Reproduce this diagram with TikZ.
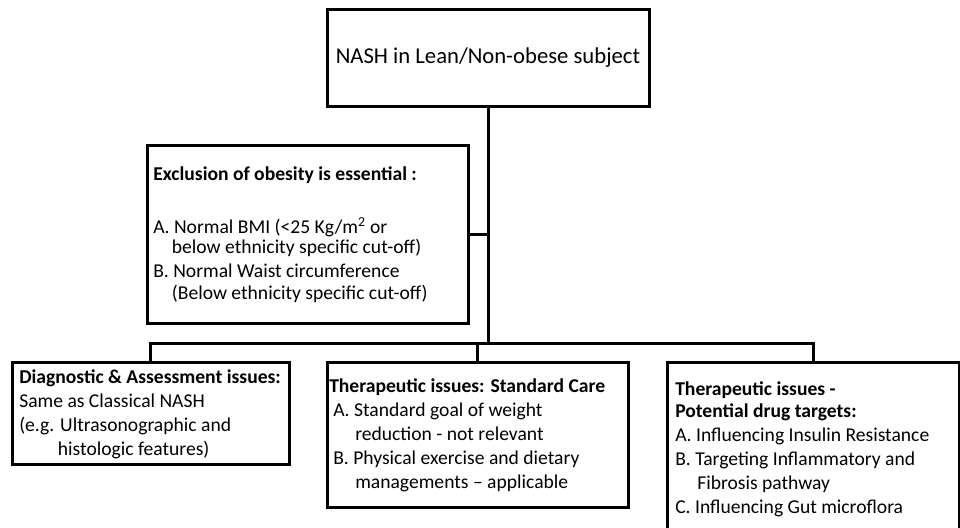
\documentclass[tikz,border=0pt]{standalone}
\usepackage{fontspec}
\setmainfont{Carlito}
\usetikzlibrary{fit}
\begin{document}
\begin{tikzpicture}[x=0.75pt,y=-0.75pt,
  box/.style={draw, line width=2.25pt, inner sep=0pt, rectangle},
  wire/.style={line width=2.25pt},
  txt/.style={anchor=base west, inner sep=0pt, align=left, font=\fontsize{14.7}{18}\selectfont},
  ttl/.style={inner sep=0pt, font=\fontsize{17}{20}\selectfont}]
\useasboundingbox (0,0) rectangle (960,528);
\begin{scope}
\clip (0,0) rectangle (960,528);
% boxes
\node[box, fit={(327,10) (649,106)}] (title) {};
\node[box, fit={(147,145) (468,323)}] (excl) {};
\node[box, fit={(12,362) (289,464)}] (left) {};
\node[box, fit={(327,362) (628,507)}] (mid) {};
\node[box, fit={(667,362) (959,545)}] (right) {};
% texts (base anchor = baseline of last line)
\node[ttl] (ttltext) at (title.center) {NASH in Lean/Non-obese subject};
\node[txt] (excltext) at (153,299) {\textbf{Exclusion of obesity is essential :}\\[21.75pt]
A. Normal BMI (<25 Kg/m\textsuperscript{2} or\\[-3pt]
\hspace*{14pt}below ethnicity specific cut-off)\\
B. Normal Waist circumference\\[-1.5pt]
\hspace*{14pt}(Below ethnicity specific cut-off)};
\node[txt] (lefttext) at (19,455) {\textbf{Diagnostic \& Assessment issues:}\\
Same as Classical NASH\\
(e.g. Ultrasonographic and\\
\hspace*{29pt}histologic features)};
\node[txt] (midtext) at (329,488) {\textbf{Therapeutic issues: Standard Care}\\
\hspace*{3pt}A. Standard goal of weight\\
\hspace*{19.5pt}reduction - not relevant\\
\hspace*{3pt}B. Physical exercise and dietary\\
\hspace*{19.5pt}managements – applicable};
\node[txt] (righttext) at (675,513) {\textbf{Therapeutic issues -}\\[-1.5pt]
\textbf{Potential drug targets:}\\
A. Influencing Insulin Resistance\\
B. Targeting Inflammatory and\\
\hspace*{16.5pt}Fibrosis pathway\\
C. Influencing Gut microflora};
% connectors
\coordinate (j) at (488,343);
\draw[wire] (title.south) -- (j);
\draw[wire] (excl.east) -- (excl.east -| title.south);
\draw[wire] (left.north) |- (j) -| (right.north);
\draw[wire] (mid.north) -- (mid.north |- j);
\end{scope}
\end{tikzpicture}
\end{document}
